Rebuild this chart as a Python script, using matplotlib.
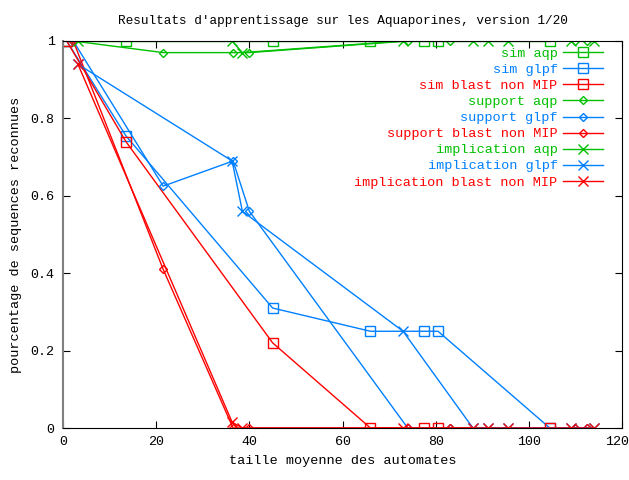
import matplotlib
matplotlib.use("Agg")
import matplotlib.pyplot as plt
import matplotlib.transforms as mtransforms

plt.rcParams['font.family'] = ['Liberation Mono', 'DejaVu Sans Mono']

green = '#00c000'
blue = '#0080ff'
red = '#ff0000'

# sim series
x_sim = [0.8, 13.5, 45, 66, 77.5, 80.5, 104.5]
sim_aqp = [1, 1, 1, 1, 1, 1, 1]
sim_glpf = [1, 0.755, 0.31, 0.25, 0.25, 0.25, 0]
sim_blast = [1, 0.74, 0.22, 0, 0, 0, 0]

# support series
x_sup = [2.2, 21.5, 36.5, 40, 74, 83, 110, 112.5]
sup_aqp = [1, 0.97, 0.97, 0.97, 1, 1, 1, 1]
sup_glpf = [1, 0.625, 0.69, 0.56, 0, 0, 0, 0]
sup_blast = [1, 0.41, 0, 0, 0, 0, 0, 0]

# implication series
x_imp = [3.2, 36.3, 38.5, 73, 88, 91.2, 95.5, 109, 114]
imp_aqp = [1, 1, 0.97, 1, 1, 1, 1, 1, 1]
imp_glpf = [0.94, 0.69, 0.56, 0.25, 0, 0, 0, 0, 0]
imp_blast = [0.94, 0.015, 0, 0, 0, 0, 0, 0, 0]

fig = plt.figure(figsize=(6.29, 4.8), dpi=100)
ax = fig.add_axes([0.1002, 0.1083, 0.8887, 0.8063])

sq = dict(marker='s', ms=6.5, mfc='none', mew=1, lw=1)
dm = dict(marker='D', ms=4.5, mfc='none', mew=1, lw=1)
xx = dict(marker='x', ms=7, mew=1, lw=1)

ax.plot(x_sim, sim_aqp, color=green, label='sim aqp', **sq)
ax.plot(x_sim, sim_glpf, color=blue, label='sim glpf', **sq)
ax.plot(x_sim, sim_blast, color=red, label='sim blast non MIP', **sq)
ax.plot(x_sup, sup_aqp, color=green, label='support aqp', **dm)
ax.plot(x_sup, sup_glpf, color=blue, label='support glpf', **dm)
ax.plot(x_sup, sup_blast, color=red, label='support blast non MIP', **dm)
ax.plot(x_imp, imp_aqp, color=green, label='implication aqp', **xx)
ax.plot(x_imp, imp_glpf, color=blue, label='implication glpf', **xx)
ax.plot(x_imp, imp_blast, color=red, label='implication blast non MIP', **xx)

ax.set_xlim(0, 120)
ax.set_ylim(0, 1)
ax.set_xticks([0, 20, 40, 60, 80, 100, 120])
ax.set_yticks([0, 0.2, 0.4, 0.6, 0.8, 1])
ax.set_yticklabels(['0', '0.2', '0.4', '0.6', '0.8', '1'])
ax.tick_params(direction='in', length=5, top=True, right=True, labelsize=9.6, pad=6)
ax.spines['left'].set_color('#808080')
ax.spines['left'].set_linewidth(1.5)

# keep the last x tick label inside the picture
last = ax.get_xticklabels()[-1]
last.set_transform(last.get_transform() + mtransforms.ScaledTranslation(-0.05, 0, fig.dpi_scale_trans))

ax.set_title("Resultats d'apprentissage sur les Aquaporines, version 1/20", fontsize=9.2, pad=12)
ax.set_xlabel('taille moyenne des automates', fontsize=9.7, labelpad=5)
ax.set_ylabel('pourcentage de sequences reconnues', fontsize=9.7, labelpad=6)

leg = ax.legend(loc='upper right', bbox_to_anchor=(0.966, 0.983), frameon=False,
                markerfirst=False, labelcolor='linecolor', fontsize=9.7,
                handlelength=3.0, handletextpad=0.37, labelspacing=0.27,
                borderaxespad=0, borderpad=0)

fig.savefig('out.png', dpi=100)
